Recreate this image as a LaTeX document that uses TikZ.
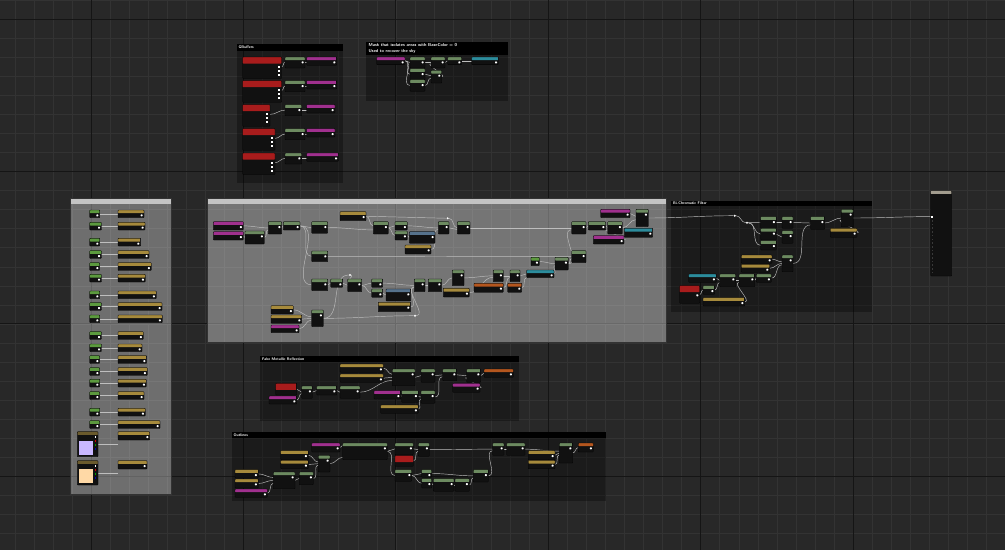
\documentclass[tikz,border=0pt]{standalone}
\usepackage{tikz}
\usetikzlibrary{calc}

\definecolor{canvasbg}{HTML}{282828}
\definecolor{gridminor}{HTML}{333333}
\definecolor{gridmajor}{HTML}{151515}
\definecolor{nodebg}{HTML}{111111}
\definecolor{nodeedge}{HTML}{020202}
\definecolor{hgreen}{HTML}{6C8A60}
\definecolor{pgreen}{HTML}{5C9A3E}
\definecolor{hparam}{HTML}{A68A3C}
\definecolor{hvec}{HTML}{6A5A2C}
\definecolor{htex}{HTML}{A0308E}
\definecolor{hcustom}{HTML}{A81C1C}
\definecolor{hcyan}{HTML}{2C8C9C}
\definecolor{hblue}{HTML}{56728C}
\definecolor{horange}{HTML}{B4561E}
\definecolor{hout}{HTML}{A29C8E}
\definecolor{titlelight}{HTML}{C4C4C4}
\definecolor{wirec}{HTML}{BEBEBE}
\definecolor{lavender}{HTML}{C9B8FF}
\definecolor{peach}{HTML}{FFD9A6}

\pgfdeclarelayer{bg}
\pgfdeclarelayer{wires}
\pgfsetlayers{bg,wires,main}

\def\uehead{3.2pt}
\def\uepiny{4.4pt}
\def\uepin{\fill[white] ([xshift=-3.4pt,yshift=-\uepiny]path picture bounding box.north east) rectangle ++(2pt,-2pt);}

\tikzset{
  ue/.style n args={3}{draw=nodeedge, line width=.3pt, fill=nodebg, rounded corners=.6pt,
    anchor=north west, inner sep=0pt, outer sep=0pt,
    minimum width=#2pt, minimum height=#3pt,
    path picture={\fill[#1] (path picture bounding box.north west) rectangle ([yshift=-\uehead]path picture bounding box.north east); \uepin}},
  tallhead/.code={\def\uehead{6.5pt}\def\uepiny{8.6pt}},
  nopin/.code={\let\uepin\relax},
  wire/.style={draw=wirec, line width=.45pt},
  rdot/.style={circle, fill=white, inner sep=0pt, minimum size=2.2pt},
  cmttitle/.style={anchor=west, inner sep=0pt, text=white, align=left,
    font=\sffamily\bfseries\fontsize{3.8}{4.6}\selectfont},
}

\begin{document}
\begin{tikzpicture}[x=1pt, y=-1pt]
\useasboundingbox (0,0) rectangle (1005,550);

\begin{pgfonlayer}{bg}
\fill[canvasbg] (0,0) rectangle (1005,550);
\foreach \gx in {0,...,52} \draw[gridminor, line width=.35pt] ({14.8+\gx*19.05},0) -- ++(0,550);
\foreach \gy in {0,...,28} \draw[gridminor, line width=.35pt] (0,{\gy*19.05}) -- ++(1005,0);
\foreach \gx in {91,243.4,395.8,548.2,700.6,853} \draw[gridmajor, line width=.9pt] (\gx,0) -- ++(0,550);
\foreach \gy in {19,171.4,323.8,476.2} \draw[gridmajor, line width=.9pt] (0,\gy) -- ++(1005,0);
% comment frames
\fill[black, fill opacity=.32] (236.5,44) rectangle (343,183);
\fill[black] (236.5,44) rectangle (343,50.7);
\fill[black, fill opacity=.32] (366,42) rectangle (508,101);
\fill[black] (366,42) rectangle (508,55);
\fill[white, fill opacity=.33] (70.5,198) rectangle (171.5,494);
\fill[titlelight] (70.5,198) rectangle (171.5,204);
\draw[black!80, line width=.5pt] (70.5,198) rectangle (171.5,494);
\fill[white, fill opacity=.36] (207,198) rectangle (666,342);
\fill[titlelight] (207,198) rectangle (666,204);
\draw[black!80, line width=.5pt] (207,198) rectangle (666,342);
\fill[black, fill opacity=.32] (671,200.5) rectangle (872,312);
\fill[black] (671,200.5) rectangle (872,206.3);
\fill[black, fill opacity=.32] (260,356) rectangle (519,421);
\fill[black] (260,356) rectangle (519,362);
\fill[black, fill opacity=.32] (231.5,432) rectangle (606,501);
\fill[black] (231.5,432) rectangle (606,438.3);
\end{pgfonlayer}

% titles
\node[cmttitle] (tgbuf) at (238.5,47.4) {GBuffers};
\node[cmttitle, font=\sffamily\bfseries\fontsize{4.3}{5.8}\selectfont] (tmask) at (368.5,48.5) {Mask that isolates areas with BaseColor = 0\\Used to recover the sky};
\node[cmttitle] (tbichr) at (673,203.4) {Bi-Chromatic Filter};
\node[cmttitle] (tfake) at (262,359) {Fake Metallic Reflection};
\node[cmttitle] (toutl) at (233.5,435.2) {Outlines};

% GBuffers
\foreach \y/\rw/\gw/\mw [count=\i] in {57/39/20/30, 80.7/39/20/30, 104.7/27.3/16.7/28.3, 128.7/32.3/20/28.3, 153/32.3/16.7/31.7}{
  \node[ue={hcustom}{\rw}{21.5}, tallhead, nopin] (gbr\i) at (242.7,\y) {};
  \foreach \k in {0,1,2} \fill[white] ([xshift=-4pt,yshift={-8.7pt-\k*4pt}]gbr\i.north east) rectangle ++(2pt,-2pt);
  \node[ue={hgreen}{\gw}{11}] (gbg\i) at (285,\y) {};
  \node[ue={htex}{\mw}{8.3}] (gbm\i) at (306.7,\y) {};
}

% mask
\node[ue={htex}{28.3}{7.6}] (mk1) at (376.7,57) {};
\node[ue={hgreen}{15}{11}] (mk2) at (410,57) {};
\node[ue={hgreen}{14}{11}] (mk3) at (431,57) {};
\node[ue={hgreen}{14}{7.6}] (mk4) at (447.7,57) {};
\node[ue={hcyan}{26.7}{7.6}] (mk5) at (471.7,57) {};
\node[ue={hgreen}{15}{11}] (mk6) at (410,68.7) {};
\node[ue={hgreen}{10.7}{12.7}] (mk7) at (431,70.3) {};
\node[ue={hgreen}{15}{11.6}] (mk8) at (410,79.7) {};

% parameters panel
\foreach \y/\pw/\gw [count=\i] in {210/26/10, 222.3/27/11.7, 238.3/22.7/10, 250.7/31/11.7, 262.7/33.3/10, 274.3/27.3/11.7, 291/38.3/10, 302.7/44/11.7, 315/44.3/10, 331.7/25.3/11.7, 344/24/11.7, 355.7/28.7/10, 367.7/29.3/10, 379.3/28.3/10, 391.7/26/10, 408.3/27.3/10, 420.7/42/10}{
  \node[ue={pgreen}{\gw}{7.7}] (lg\i) at (89.7,\y) {};
  \node[ue={hparam}{\pw}{7.7}] (lp\i) at (118,\y) {};
}
\node[ue={hvec}{20.7}{25}, nopin] (lcol1) at (77.3,431.7) {};
\fill[lavender] (79,440.7) rectangle (93,455);
\node[ue={hparam}{31.7}{8.3}] (lcolp1) at (118,431.7) {};
\node[ue={hvec}{20.7}{24.3}, nopin] (lcol2) at (77.3,460.7) {};
\fill[peach] (79,469.3) rectangle (93,483.3);
\node[ue={hparam}{29}{8.3}] (lcolp2) at (118,460.7) {};
\foreach \c/\k in {white/0, red!80!black/1, green!60!black/2, blue!70!black/3}{
  \fill[\c] (94.6,{436+\k*4}) rectangle ++(1.8pt,-1.8pt);
  \fill[\c] (94.6,{465+\k*4}) rectangle ++(1.8pt,-1.8pt);
}

% main section
\node[ue={htex}{30}{8.3}] (ms1) at (213.3,221.7) {};
\node[ue={htex}{30}{8.3}] (ms2) at (213.3,231.7) {};
\node[ue={hgreen}{19.3}{13}] (ms3) at (245,231) {};
\node[ue={hgreen}{13.4}{12.3}] (ms4) at (268.3,221.7) {};
\node[ue={hgreen}{16.7}{8.3}] (ms5) at (283.3,221.7) {};
\node[ue={hgreen}{16}{11.6}] (ms6) at (311.7,221.7) {};
\node[ue={hparam}{26}{9}] (ms7) at (340,211.7) {};
\node[ue={hgreen}{15}{12.3}] (ms8) at (373.3,221.7) {};
\node[ue={hgreen}{12.3}{8.3}] (ms9) at (395,221.7) {};
\node[ue={hgreen}{12.3}{9}] (ms10) at (395,231) {};
\node[ue={hblue}{25.7}{11.6}] (ms11) at (409.3,231.7) {};
\node[ue={hparam}{26}{9}] (ms12) at (405,245) {};
\node[ue={hgreen}{10.7}{12.3}] (ms13) at (438.3,221.7) {};
\node[ue={hgreen}{12.7}{12.3}] (ms14) at (457.3,221.7) {};
\node[ue={hgreen}{16}{10.7}] (ms15) at (311.7,251) {};
\node[ue={hgreen}{16}{11.7}] (ms16) at (311.7,279) {};
\node[ue={hgreen}{12}{8.3}] (ms17) at (330.7,279) {};
\node[ue={hgreen}{14}{12.7}] (ms18) at (347.7,279) {};
\node[ue={hgreen}{11}{8.3}] (ms19) at (371.7,279) {};
\node[ue={hgreen}{11}{8.3}] (ms20) at (371.7,289) {};
\node[ue={hblue}{24.7}{12}] (ms21) at (386,289) {};
\node[ue={hparam}{32.4}{9.4}] (ms22) at (378.3,302.3) {};
\node[ue={hgreen}{10.7}{12.7}] (ms23) at (414.3,279) {};
\node[ue={hgreen}{13.4}{12.7}] (ms24) at (428.3,279) {};
\node[ue={hparam}{26}{8.7}] (ms25) at (443.3,288.3) {};
\node[ue={hgreen}{11.7}{15.7}] (ms26) at (452.3,270) {};
\node[ue={hparam}{22.3}{8.3}] (ms27) at (271,305.7) {};
\node[ue={hparam}{30.7}{8.3}] (ms28) at (271,315) {};
\node[ue={htex}{28}{7.7}] (ms29) at (271,325) {};
\node[ue={hgreen}{11.6}{16.7}] (ms30) at (311.7,310) {};
\node[ue={hgreen}{10}{11.7}] (ms31) at (493.3,270) {};
\node[ue={horange}{29.3}{9}] (ms32) at (474,283.3) {};
\node[ue={hgreen}{10}{11.7}] (ms33) at (510,270) {};
\node[ue={horange}{14}{9}] (ms34) at (507.7,283.3) {};
\node[ue={pgreen}{8.3}{8.4}] (ms35) at (531,257.3) {};
\node[ue={hcyan}{27.3}{7.7}] (ms36) at (526.7,270) {};
\node[ue={hgreen}{13.3}{12.7}] (ms37) at (555,257.3) {};
\node[ue={hgreen}{14.3}{12}] (ms38) at (571.7,250.7) {};
\node[ue={hgreen}{14.3}{12.3}] (ms39) at (571.7,221.7) {};
\node[ue={hgreen}{17.4}{8.3}] (ms40) at (588.3,221.7) {};
\node[ue={hgreen}{14.6}{12.3}] (ms41) at (607.7,221.7) {};
\node[ue={htex}{29.3}{8.4}] (ms42) at (600.7,209.3) {};
\node[ue={htex}{30.7}{8.3}] (ms43) at (593.3,235.7) {};
\node[ue={hcyan}{28.4}{9}] (ms44) at (624.3,228.3) {};
\node[ue={hgreen}{12.3}{17.4}] (ms45) at (636,209.3) {};
\node[rdot] (mr1) at (447.7,218.3) {};
\node[rdot] (mr2) at (350,275) {};
\node[rdot] (mr3) at (415,315.7) {};

% bi-chromatic filter
\node[ue={hgreen}{15.6}{11.6}] (bc1) at (760.7,216.7) {};
\node[ue={hgreen}{15.6}{11.7}] (bc2) at (760.7,228.3) {};
\node[ue={hgreen}{15.6}{9.3}] (bc3) at (760.7,240.7) {};
\node[ue={hgreen}{11}{11.6}] (bc4) at (782,216.7) {};
\node[ue={hgreen}{11}{12.6}] (bc5) at (782,230.7) {};
\node[ue={hgreen}{14}{12.6}] (bc6) at (810.7,216.7) {};
\node[ue={hgreen}{11.7}{17.4}] (bc7) at (841.3,209.3) {};
\node[ue={hparam}{26.7}{9}] (bc8) at (830.3,228.3) {};
\node[ue={hparam}{30.7}{8.3}] (bc9) at (741.3,255) {};
\node[ue={hparam}{28.4}{8}] (bc10) at (741.3,264.3) {};
\node[ue={hgreen}{11}{16.7}] (bc11) at (782,255) {};
\node[ue={hcyan}{27.6}{8.3}] (bc12) at (688.7,274) {};
\node[ue={hgreen}{16}{12.7}] (bc13) at (719.7,274) {};
\node[ue={hgreen}{15.7}{12.7}] (bc14) at (739,274) {};
\node[ue={hgreen}{15}{8.3}] (bc15) at (756.3,274) {};
\node[ue={hcustom}{20}{17.6}, tallhead] (bc16) at (679.7,285.7) {};
\node[ue={hgreen}{11.7}{8.6}] (bc17) at (703,285.7) {};
\node[ue={hparam}{41.7}{8.3}] (bc18) at (703,297.7) {};
\node[rdot] (bcr1) at (734.7,215.7) {};
\node[rdot] (bcr2) at (747,222.7) {};

% material output
\node[ue={hout}{21}{85.3}, nopin] (outn) at (930.7,190.7) {};
\fill[white] (931.4,215.6) rectangle ++(2pt,-2pt);
\foreach \k in {0,...,14} \fill[gray!45!black] (931.6,{220+\k*3.7}) rectangle ++(1.6pt,-1.6pt);
\coordinate (outin) at (931.4,216.6);

% fake metallic reflection
\node[ue={hcustom}{21}{11.7}, tallhead, nopin] (fm1) at (275.7,383.3) {};
\node[ue={htex}{27.7}{8}] (fm2) at (269,396) {};
\node[ue={hgreen}{10.6}{12.3}] (fm3) at (301.7,386) {};
\node[ue={hgreen}{20}{9}] (fm4) at (316.7,386) {};
\node[ue={hgreen}{20}{12.3}] (fm5) at (340,386) {};
\node[ue={hparam}{43.3}{8.3}] (fm6) at (340,364) {};
\node[ue={hparam}{43.3}{8.3}] (fm7) at (340,374) {};
\node[ue={hgreen}{22.7}{16.7}] (fm8) at (392.3,369) {};
\node[ue={hgreen}{14}{13.3}] (fm9) at (421,369) {};
\node[ue={hgreen}{14}{11.7}] (fm10) at (442.7,369) {};
\node[ue={hgreen}{14}{13.3}] (fm11) at (466.7,369) {};
\node[ue={horange}{29.3}{8.3}] (fm12) at (484,369) {};
\node[ue={htex}{27.3}{9}] (fm13) at (452.7,383.3) {};
\node[ue={htex}{26.7}{8.3}] (fm14) at (374,390.7) {};
\node[ue={hgreen}{16.6}{11.6}] (fm15) at (401.7,390.7) {};
\node[ue={hgreen}{14}{12.6}] (fm16) at (421,390.7) {};
\node[ue={hparam}{37.6}{8.3}] (fm17) at (380.7,405) {};

% outlines
\node[ue={hparam}{23.3}{8.3}] (ol1) at (235,469.7) {};
\node[ue={hparam}{23.3}{9}] (ol2) at (235,479) {};
\node[ue={htex}{32.3}{8.3}] (ol3) at (235,489) {};
\node[ue={hgreen}{21.7}{16.7}] (ol4) at (273.3,472) {};
\node[ue={hgreen}{14}{12.7}] (ol5) at (299.3,472) {};
\node[ue={hparam}{27.6}{9}] (ol6) at (280.7,450.7) {};
\node[ue={hparam}{27.6}{8.4}] (ol7) at (280.7,460.3) {};
\node[ue={hgreen}{11.7}{16.7}] (ol8) at (318.3,455.3) {};
\node[ue={htex}{28.3}{9}] (ol9) at (311.7,443) {};
\node[ue={hgreen}{44.6}{16.7}] (ol10) at (342.7,443) {};
\node[ue={hgreen}{18.3}{11.7}] (ol11) at (395,443) {};
\node[ue={hcustom}{18.3}{10.6}, tallhead, nopin] (ol12) at (395,455.7) {};
\node[ue={hgreen}{11}{13.3}] (ol13) at (418.3,443) {};
\node[ue={hgreen}{16.7}{11.6}] (ol14) at (395,469.7) {};
\node[ue={hgreen}{10}{7.6}] (ol15) at (421.7,469.7) {};
\node[ue={hgreen}{10}{9.3}] (ol16) at (421.7,478.7) {};
\node[ue={hgreen}{20.7}{12.6}] (ol17) at (433.3,478.7) {};
\node[ue={hgreen}{14.3}{12.6}] (ol18) at (455,478.7) {};
\node[ue={hgreen}{15}{12.3}] (ol19) at (473.3,469.7) {};
\node[ue={hgreen}{11.3}{12.3}] (ol20) at (492.7,443) {};
\node[ue={hgreen}{18.3}{12.3}] (ol21) at (506.7,443) {};
\node[ue={hparam}{26.7}{9}] (ol22) at (528.3,450.7) {};
\node[ue={hparam}{26.7}{8.4}] (ol23) at (528.3,460.3) {};
\node[ue={hgreen}{13.4}{20}] (ol24) at (559.3,443) {};
\node[ue={horange}{15}{9}] (ol25) at (578.3,443) {};

\begin{pgfonlayer}{wires}
\foreach \i in {1,...,5}{
  \draw[wire] ([yshift=-9.7pt]gbr\i.north east) to[out=0,in=180] ([yshift=-5.4pt]gbg\i.north west);
  \draw[wire] ([yshift=-5.4pt]gbg\i.north east) to[out=0,in=180] ([yshift=-5.4pt]gbm\i.north west);
}
\foreach \i in {1,...,17} \draw[wire] (lg\i.east) -- (lp\i.west |- lg\i.east);
\draw[wire] (lcol1.east) -- (lcolp1.west |- lcol1.east);
\draw[wire] (lcol2.east) -- (lcolp2.west |- lcol2.east);
% mask
\draw[wire] (mk1.east) to[out=0,in=180] (mk2.west);
\draw[wire] (mk1.east) to[out=0,in=180] (mk6.west);
\draw[wire] (mk1.east) to[out=0,in=180] (mk8.west);
\draw[wire] (mk2.east) to[out=0,in=180] (mk3.west);
\draw[wire] (mk6.east) to[out=0,in=180] (mk7.170);
\draw[wire] (mk8.east) to[out=0,in=180] (mk7.195);
\draw[wire] (mk7.east) to[out=0,in=180] (mk3.190);
\draw[wire] (mk3.east) to[out=0,in=180] (mk4.west);
\draw[wire] (mk4.east) to[out=0,in=180] (mk5.west);
% main section
\draw[wire] (ms1.east) to[out=0,in=180] (ms4.west);
\draw[wire] (ms2.east) to[out=0,in=180] (ms3.west);
\draw[wire] (ms3.east) to[out=0,in=180] (ms4.195);
\draw[wire] (ms4.east) to[out=0,in=180] (ms5.west);
\draw[wire] (ms5.east) to[out=0,in=180] (ms6.west);
\draw[wire] (ms5.east) to[out=0,in=180] (ms15.west);
\draw[wire] (ms5.east) to[out=0,in=180] (ms16.west);
\draw[wire] (ms6.east) to[out=0,in=180] (ms8.195);
\draw[wire] (ms7.east) to[out=0,in=180] (ms8.165);
\draw[wire] (ms7.east) -- (mr1);
\draw[wire] (mr1) to[out=0,in=180] (ms14.west);
\draw[wire] (ms8.east) to[out=0,in=180] (ms9.west);
\draw[wire] (ms8.east) to[out=0,in=180] (ms10.west);
\draw[wire] (ms10.east) to[out=0,in=180] (ms11.west);
\draw[wire] (ms9.east) to[out=0,in=180] (ms13.west);
\draw[wire] (ms12.east) to[out=0,in=180] (ms13.195);
\draw[wire] (ms13.east) to[out=0,in=180] (ms14.195);
\draw[wire] (ms14.east) to[out=0,in=180] (ms39.west);
\draw[wire] (ms15.east) to[out=0,in=180] (ms38.west);
\draw[wire] (ms16.east) to[out=0,in=180] (ms17.west);
\draw[wire] (ms17.east) to[out=0,in=180] (ms18.west);
\draw[wire] (mr2) to[out=0,in=180] (ms18.165);
\draw[wire] (ms18.east) to[out=0,in=180] (ms19.west);
\draw[wire] (ms18.east) to[out=0,in=180] (ms20.west);
\draw[wire] (ms20.east) to[out=0,in=180] (ms21.west);
\draw[wire] (ms19.east) to[out=0,in=180] (ms23.west);
\draw[wire] (ms22.east) to[out=0,in=180] (ms23.195);
\draw[wire] (mr3) to[out=0,in=180] (ms23.200);
\draw[wire] (ms23.east) to[out=0,in=180] (ms24.west);
\draw[wire] (ms24.east) to[out=0,in=180] (ms26.west);
\draw[wire] (ms26.east) to[out=0,in=180] (ms31.west);
\draw[wire] (ms25.east) to[out=0,in=180] (ms31.195);
\draw[wire] (ms31.east) to[out=0,in=180] (ms33.west);
\draw[wire] (ms32.east) to[out=0,in=180] (ms33.195);
\draw[wire] (ms33.east) to[out=0,in=180] (ms36.west);
\draw[wire] (ms34.east) to[out=0,in=180] (ms36.195);
\draw[wire] (ms35.east) to[out=0,in=180] (ms37.west);
\draw[wire] (ms36.east) to[out=0,in=180] (ms37.195);
\draw[wire] (ms37.east) to[out=0,in=180] (ms38.195);
\draw[wire] (ms37.east) to[out=0,in=180] (ms39.195);
\draw[wire] (ms39.east) to[out=0,in=180] (ms40.west);
\draw[wire] (ms40.east) to[out=0,in=180] (ms41.west);
\draw[wire] (ms43.east) to[out=0,in=180] (ms41.195);
\draw[wire] (ms41.east) to[out=0,in=180] (ms45.195);
\draw[wire] (ms42.east) to[out=0,in=180] (ms45.165);
\draw[wire] (ms27.east) to[out=0,in=180] (ms30.165);
\draw[wire] (ms28.east) to[out=0,in=180] (ms30.west);
\draw[wire] (ms29.east) to[out=0,in=180] (ms30.195);
\draw[wire] (ms30.east) to[out=0,in=180] (mr2);
\draw[wire] (ms30.east) to[out=0,in=180] (mr3);
% bi-chromatic
\draw[wire] (ms45.east) to[out=0,in=180] (bcr1);
\draw[wire] (bcr1) to[out=0,in=180] (bcr2);
\draw[wire] (bcr2) to[out=0,in=180] (bc1.west);
\draw[wire] (bcr2) to[out=0,in=180] (bc2.west);
\draw[wire] (bcr2) to[out=0,in=180] (bc3.west);
\draw[wire] (bc1.east) to[out=0,in=180] (bc4.west);
\draw[wire] (bc2.east) to[out=0,in=180] (bc5.west);
\draw[wire] (bc4.east) to[out=0,in=180] (bc6.west);
\draw[wire] (bc11.east) to[out=0,in=180] (bc6.195);
\draw[wire] (bc6.east) to[out=0,in=180] (bc7.west);
\draw[wire] (bc8.east) to[out=0,in=180] (bc7.200);
\draw[wire] (bc7.east) to[out=0,in=180] (outin);
\draw[wire] (bc9.east) to[out=0,in=180] (bc11.165);
\draw[wire] (bc10.east) to[out=0,in=180] (bc11.west);
\draw[wire] (bc15.east) to[out=0,in=180] (bc11.195);
\draw[wire] (bc12.east) to[out=0,in=180] (bc13.west);
\draw[wire] (bc16.east) to[out=0,in=180] (bc17.west);
\draw[wire] (bc17.east) to[out=0,in=180] (bc13.195);
\draw[wire] (bc13.east) to[out=0,in=180] (bc14.west);
\draw[wire] (bc18.east) to[out=0,in=180] (bc14.195);
\draw[wire] (bc14.east) to[out=0,in=180] (bc15.west);
% fake metallic
\draw[wire] (fm1.east) to[out=0,in=180] (fm3.west);
\draw[wire] (fm2.east) to[out=0,in=180] (fm3.195);
\draw[wire] (fm3.east) to[out=0,in=180] (fm4.west);
\draw[wire] (fm4.east) to[out=0,in=180] (fm5.west);
\draw[wire] (fm6.east) to[out=0,in=180] (fm8.165);
\draw[wire] (fm7.east) to[out=0,in=180] (fm8.west);
\draw[wire] (fm5.east) to[out=0,in=180] (fm8.195);
\draw[wire] (fm8.east) to[out=0,in=180] (fm9.west);
\draw[wire] (fm9.east) to[out=0,in=180] (fm10.west);
\draw[wire] (fm16.east) to[out=0,in=180] (fm10.195);
\draw[wire] (fm10.east) to[out=0,in=180] (fm11.west);
\draw[wire] (fm13.east) to[out=0,in=180] (fm11.195);
\draw[wire] (fm11.east) to[out=0,in=180] (fm12.west);
\draw[wire] (fm14.east) to[out=0,in=180] (fm15.west);
\draw[wire] (fm15.east) to[out=0,in=180] (fm16.west);
\draw[wire] (fm17.east) to[out=0,in=180] (fm16.195);
% outlines
\draw[wire] (ol1.east) to[out=0,in=180] (ol4.165);
\draw[wire] (ol2.east) to[out=0,in=180] (ol4.west);
\draw[wire] (ol3.east) to[out=0,in=180] (ol4.195);
\draw[wire] (ol4.east) to[out=0,in=180] (ol5.west);
\draw[wire] (ol5.east) to[out=0,in=180] (ol8.195);
\draw[wire] (ol6.east) to[out=0,in=180] (ol8.165);
\draw[wire] (ol7.east) to[out=0,in=180] (ol8.west);
\draw[wire] (ol8.east) to[out=0,in=180] (ol10.195);
\draw[wire] (ol9.east) to[out=0,in=180] (ol10.165);
\draw[wire] (ol10.east) to[out=0,in=180] (ol11.west);
\draw[wire] (ol10.east) to[out=0,in=180] (ol14.west);
\draw[wire] (ol11.east) to[out=0,in=180] (ol13.west);
\draw[wire] (ol12.east) to[out=0,in=180] (ol13.195);
\draw[wire] (ol13.east) to[out=0,in=180] (ol20.west);
\draw[wire] (ol14.east) to[out=0,in=180] (ol15.west);
\draw[wire] (ol14.east) to[out=0,in=180] (ol16.west);
\draw[wire] (ol16.east) to[out=0,in=180] (ol17.west);
\draw[wire] (ol17.east) to[out=0,in=180] (ol18.west);
\draw[wire] (ol18.east) to[out=0,in=180] (ol19.195);
\draw[wire] (ol15.east) to[out=0,in=180] (ol19.west);
\draw[wire] (ol19.east) to[out=0,in=180] (ol20.195);
\draw[wire] (ol20.east) to[out=0,in=180] (ol21.west);
\draw[wire] (ol21.east) to[out=0,in=180] (ol24.165);
\draw[wire] (ol22.east) to[out=0,in=180] (ol24.west);
\draw[wire] (ol23.east) to[out=0,in=180] (ol24.195);
\draw[wire] (ol24.east) to[out=0,in=180] (ol25.west);
\end{pgfonlayer}
\end{tikzpicture}
\end{document}
